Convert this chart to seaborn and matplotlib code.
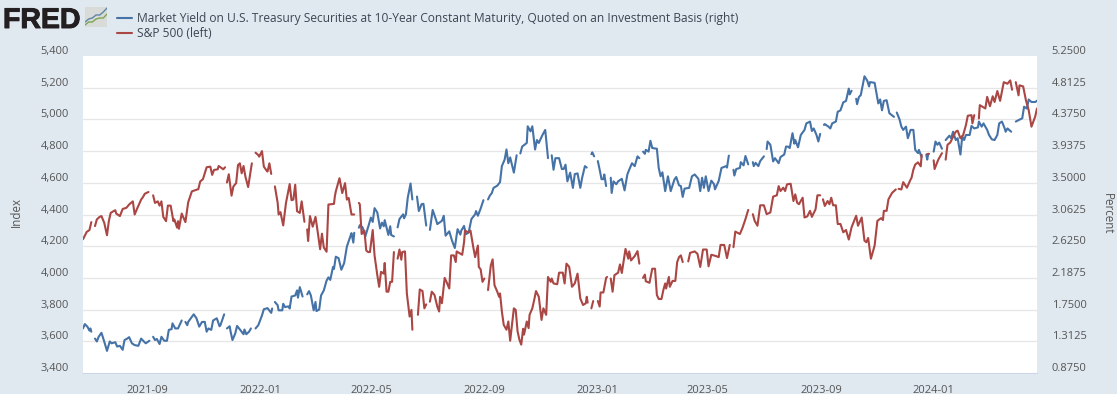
import numpy as np
import pandas as pd
import seaborn as sns
import matplotlib.pyplot as plt
import matplotlib.patheffects as pe
from matplotlib.lines import Line2D
from matplotlib.patches import Rectangle
from matplotlib.transforms import ScaledTranslation

nan = float('nan')

# days since the start date, nan in the values marks a missing observation
start_date = '2021-06-24'

sp_days = [0, 4, 7, 9, 11, 13, 15, 18, 20, 23, 26, 28, 30, 33, 35, 36, 40, 43, 47, 50,
           54, 56, 59, 63, 65, 67, 71, 73, 76, 78, 81, 83, 85, 87, 90, 92, 95, 98, 99, 102,
           103, 104, 107, 111, 114, 118, 123, 125, 127, 130, 134, 138, 140, 142, 146, 147, 149, 152, 154, 155,
           156, 158, 161, 163, 166, 168, 170, 172, 174, 176, 179, 183, 186, 187, 190, 191, 194, 196, 199, 200,
           202, 204, 207, 208, 211, 212, 214, 217, 220, 224, 226, 228, 230, 232, 235, 237, 240, 242, 243, 244,
           246, 249, 252, 254, 257, 259, 261, 264, 266, 272, 273, 274, 278, 281, 284, 286, 288, 291, 294, 296,
           299, 300, 302, 305, 307, 309, 311, 314, 316, 319, 321, 323, 326, 327, 329, 331, 333, 335, 337, 339,
           341, 343, 345, 346, 349, 351, 354, 356, 357, 360, 363, 365, 368, 370, 372, 374, 376, 378, 381, 384,
           386, 387, 389, 392, 394, 397, 399, 402, 404, 405, 411, 413, 414, 418, 420, 423, 425, 428, 429, 431,
           433, 435, 437, 439, 442, 444, 446, 449, 451, 452, 454, 456, 459, 461, 463, 467, 469, 471, 473, 475,
           477, 478, 481, 483, 484, 487, 489, 491, 494, 497, 499, 502, 504, 507, 508, 510, 514, 516, 520, 522,
           524, 527, 530, 533, 536, 539, 542, 545, 546, 547, 549, 551, 553, 554, 558, 560, 561, 564, 567, 568,
           571, 572, 574, 576, 580, 582, 584, 588, 591, 592, 594, 598, 601, 603, 605, 607, 609, 610, 614, 617,
           620, 622, 624, 627, 629, 631, 632, 635, 636, 639, 642, 644, 646, 648, 650, 652, 656, 658, 663, 666,
           669, 672, 676, 678, 681, 686, 689, 691, 695, 698, 701, 703, 705, 707, 712, 715, 718, 721, 724, 726,
           728, 731, 734, 738, 741, 745, 748, 752, 754, 756, 759, 761, 763, 767, 770, 772, 774, 776, 780, 782,
           785, 788, 790, 794, 796, 799, 801, 802, 804, 807, 809, 811, 813, 816, 818, 821, 824, 827, 830, 833,
           838, 840, 844, 847, 849, 851, 854, 858, 861, 865, 867, 868, 871, 873, 877, 881, 883, 884, 887, 889,
           893, 897, 898, 900, 902, 905, 908, 909, 911, 915, 917, 919, 922, 923, 927, 931, 933, 935, 937, 940,
           944, 946, 948, 951, 954, 957, 959, 963, 964, 966, 970, 971, 972, 978, 980, 983, 986, 988, 991, 994,
           998, 1002, 1005, 1007, 1010, 1011, 1014, 1015, 1019, 1022, 1025, 1028, 1032, 1034]
sp_values = [4244, 4290, 4302, 4352, nan, 4327, 4369, 4385, 4390, 4348, 4269, 4358, 4410, 4421, 4427, 4406, 4390, 4435, 4442, 4463,
             4483, 4400, 4442, 4494, 4510, 4531, 4542, nan, 4521, 4473, 4483, 4456, 4483, 4385, 4358, 4456, 4456, 4358, 4369, 4317,
             4358, 4310, 4406, 4352, 4477, 4546, 4556, 4560, 4608, 4623, 4698, 4702, 4650, 4681, 4685, 4706, 4698, 4685, 4698, nan,
             4602, 4654, 4519, 4577, 4598, 4712, 4723, 4660, 4706, 4640, 4573, 4723, nan, 4790, 4775, 4765, 4800, 4702, 4677, 4671,
             4723, 4656, nan, 4577, 4473, 4400, 4415, 4331, 4473, 4592, 4490, 4494, 4588, 4421, 4410, 4483, 4354, nan, 4306, 4233,
             4390, 4323, 4385, 4306, 4181, 4279, 4192, 4165, 4463, 4467, 4515, 4546, 4629, 4535, 4598, 4494, 4504, 4400, 4400, nan,
             4473, 4465, 4277, 4298, 4173, 4163, 4163, 4302, 4142, 4017, 3944, 4038, 4027, 4094, 3913, 3913, 3975, 3975, 4163, nan,
             4121, 4179, 4115, 4163, 4167, 3902, 3756, 3798, 3673, nan, 3767, 3927, 3917, 3808, 3833, nan, 3850, 3913, 3892, 3819,
             3788, 3881, 3840, 4000, 3975, 3933, 4142, 4142, 4100, 4167, 4146, 4225, 4298, 4287, 4298, 4194, 4131, 4204, 4069, 4054,
             3975, 3996, nan, 3923, 4079, 4117, 3954, 3913, 3881, 3902, 3788, 3704, 3673, 3725, 3604, 3808, 3798, 3663, 3610, 3579,
             3679, 3642, 3725, 3683, 3767, 3808, 3860, 3917, 3881, 3735, 3808, 3767, 4006, 3975, 3996, 3965, 3960, 4033, 4033, 3965,
             4090, 4069, 3944, 3965, 4027, 3871, 3829, 3840, 3881, 3844, nan, 3808, 3854, nan, 3854, 3819, 3908, 3908, 4000, 4006,
             nan, 3996, 3913, 4017, 4033, 4085, 4031, 4183, 4121, 4167, 4110, 4138, 4169, 4090, nan, 4000, 4021, 3979, 3969, 4058,
             4058, 3892, 3867, 3867, 3923, 3965, 3933, 4006, 3944, 3981, 3981, 4100, 4131, 4142, 4100, nan, 4104, 4158, 4167, 4152,
             4069, 4179, 4179, 4073, 4146, 4138, 4131, 4208, 4208, 4125, 4208, nan, 4194, 4292, 4277, 4319, 4371, 4429, nan, 4402,
             4360, 4329, 4458, 4458, 4402, 4413, 4513, 4521, 4579, 4548, 4569, 4548, 4590, 4594, 4485, 4527, 4475, 4465, 4506, 4381,
             4388, 4423, 4385, 4433, 4521, 4521, nan, 4496, 4454, 4485, 4465, 4506, 4458, 4458, 4340, 4340, 4288, 4302, 4242, 4319,
             4392, 4329, 4381, 4235, 4225, 4252, 4121, 4204, 4360, 4377, 4365, 4423, 4423, 4496, 4537, 4558, nan, 4562, 4558, 4604,
             4569, 4621, 4631, 4683, 4715, 4729, 4704, 4777, nan, 4781, 4783, nan, 4742, 4687, 4746, 4787, nan, 4746, 4840, 4854,
             4902, 4923, 4929, 4881, 4902, 4965, 5023, 5027, 4975, 5027, nan, 5006, 5090, 5069, 5142, 5083, 5146, 5110, 5179, 5117,
             5235, 5225, 5246, 5187, nan, 5235, 5152, 5215, 5208, 5121, 5058, 4954, 5017, 5069]

yield_days = [0, 2, 5, 7, 8, 9, 11, 13, 15, 17, 20, 23, 26, 29, 31, 35, 37, 40, 43, 45,
              48, 50, 53, 56, 60, 63, 66, 68, 72, 74, 76, 78, 80, 83, 85, 88, 91, 93, 96, 97,
              100, 103, 107, 110, 111, 113, 114, 120, 123, 126, 129, 132, 134, 136, 139, 141, 145, 148, 149, 153,
              155, 156, 159, 160, 162, 165, 167, 171, 174, 175, 177, 180, 182, 185, 187, 190, 194, 196, 200, 204,
              205, 207, 208, 211, 212, 216, 217, 219, 223, 224, 226, 230, 232, 233, 235, 238, 241, 243, 245, 247,
              250, 252, 253, 256, 258, 261, 264, 266, 268, 271, 272, 274, 277, 280, 283, 286, 290, 291, 293, 294,
              296, 299, 300, 303, 306, 310, 312, 314, 316, 319, 322, 324, 326, 327, 331, 333, 334, 337, 339, 341,
              343, 347, 348, 350, 352, 355, 357, 360, 362, 364, 367, 369, 372, 374, 376, 379, 383, 384, 389, 391,
              393, 397, 400, 403, 405, 406, 409, 410, 413, 415, 418, 421, 425, 426, 428, 431, 434, 436, 439, 441,
              443, 445, 449, 452, 454, 457, 459, 461, 463, 467, 470, 472, 474, 476, 481, 482, 485, 487, 490, 492,
              494, 498, 501, 504, 506, 508, 510, 512, 516, 519, 521, 523, 525, 528, 531, 533, 536, 539, 541, 544,
              546, 549, 551, 552, 554, 556, 558, 560, 562, 564, 565, 567, 570, 572, 573, 575, 578, 580, 584, 587,
              590, 592, 595, 598, 601, 603, 605, 607, 609, 610, 613, 615, 617, 622, 624, 626, 628, 631, 634, 637,
              641, 643, 646, 648, 650, 652, 657, 660, 663, 667, 669, 671, 673, 675, 678, 681, 684, 685, 689, 692,
              697, 698, 700, 702, 705, 706, 708, 712, 713, 716, 718, 721, 723, 726, 727, 729, 732, 734, 738, 740,
              741, 742, 745, 748, 750, 754, 756, 760, 762, 764, 766, 769, 771, 772, 775, 778, 782, 784, 788, 790,
              792, 795, 797, 799, 801, 803, 804, 808, 810, 812, 816, 818, 821, 824, 827, 830, 831, 833, 836, 838,
              839, 841, 843, 847, 850, 852, 853, 858, 862, 864, 866, 868, 871, 874, 879, 881, 882, 885, 887, 889,
              892, 894, 897, 900, 902, 905, 906, 908, 909, 912, 914, 915, 916, 919, 922, 924, 926, 928, 931, 934,
              935, 939, 941, 943, 946, 948, 951, 953, 955, 957, 961, 963, 966, 970, 971, 974, 976, 980, 982, 985,
              988, 991, 993, 996, 999, 1000, 1002, 1006, 1009, 1011, 1014, 1018, 1020, 1023, 1025, 1028, 1032, 1035]
yield_values = [1.49, 1.55, 1.51, 1.46, 1.49, 1.445, nan, 1.35, 1.31, 1.375, 1.43, 1.31, 1.18, 1.31, 1.285, 1.30, 1.24, 1.25, 1.195, 1.33,
                1.35, 1.37, 1.285, 1.26, 1.25, 1.35, 1.31, 1.285, 1.32, nan, 1.375, 1.33, 1.345, 1.275, 1.375, 1.32, 1.32, 1.47, 1.48, 1.56,
                1.49, 1.49, 1.60, nan, 1.58, 1.535, 1.58, 1.685, 1.63, 1.515, 1.58, 1.58, 1.445, 1.49, 1.47, 1.60, 1.63, 1.52, 1.535, 1.685,
                nan, 1.49, 1.52, 1.445, 1.33, 1.42, 1.525, 1.46, 1.41, 1.475, 1.41, 1.445, 1.49, nan, 1.49, 1.535, 1.67, 1.755, 1.77, 1.705,
                1.765, nan, 1.855, 1.81, 1.74, 1.74, 1.83, 1.785, 1.795, 1.765, 1.93, 1.945, 2.015, 1.915, 2.06, 1.93, nan, 1.96, 2.005, 1.945,
                1.74, 1.855, 1.73, 1.75, 1.945, 2.015, 2.15, 2.195, 2.16, 2.34, 2.31, 2.48, 2.46, 2.30, 2.39, 2.62, 2.77, 2.805, 2.675, 2.81,
                nan, 2.88, 2.915, 2.885, 2.76, 2.93, 3.02, 2.96, 3.15, 3.09, 2.87, 2.95, 2.90, 2.985, 2.78, 2.90, 2.78, 2.76, nan, 2.885,
                3.00, 3.065, 3.01, 3.065, 3.295, 3.49, 3.27, nan, 3.31, 3.11, 3.205, 3.21, 2.91, nan, 2.85, 3.125, 2.975, 2.93, 2.975, 3.045,
                2.77, 2.83, 2.70, 2.60, 2.78, 2.86, 2.785, 2.84, 2.905, 2.79, 2.815, 3.00, 3.065, 3.11, 3.045, 3.145, 3.26, nan, 3.27, 3.325,
                3.355, 3.43, 3.46, 3.51, 3.73, 3.82, 3.96, 3.77, 3.85, 3.64, 3.88, nan, 3.905, 4.00, 4.05, 4.28, 4.21, 4.28, 3.96, 4.09,
                4.05, 4.16, 4.23, 3.84, nan, 3.88, 3.68, 3.84, 3.84, 3.69, 3.69, 3.75, 3.52, 3.64, 3.43, 3.62, 3.63, 3.43, 3.57, 3.73,
                3.71, nan, 3.895, 3.92, 3.865, nan, 3.80, 3.68, 3.55, 3.55, 3.615, 3.455, nan, 3.57, 3.36, 3.52, 3.48, 3.52, 3.555, 3.395,
                3.615, 3.68, 3.77, 3.73, 3.865, 3.84, nan, 3.93, 3.90, 3.955, 3.93, 4.08, 3.98, 3.97, 3.705, 3.59, 3.645, 3.385, 3.59, 3.385,
                3.545, 3.58, 3.465, 3.455, 3.305, 3.42, 3.43, 3.59, 3.615, 3.555, 3.385, 3.57, 3.43, 3.59, 3.385, 3.53, 3.48, 3.41, 3.525, 3.705,
                3.73, 3.71, 3.875, nan, 3.68, 3.60, 3.69, 3.705, 3.785, 3.74, 3.87, 3.755, nan, 3.785, 3.73, 3.775, 3.73, 3.80, 3.865, nan,
                3.965, 4.07, 4.025, 3.795, 3.84, 3.77, 3.855, 3.89, 4.00, 4.00, 3.98, 4.185, 4.04, 4.09, 3.99, 4.16, 4.23, 4.32, 4.345, 4.215,
                4.25, 4.16, 4.07, 4.175, nan, 4.30, 4.31, 4.275, 4.25, 4.32, 4.345, 4.48, 4.50, 4.61, 4.63, 4.80, 4.72, 4.77, nan, 4.66,
                4.585, 4.685, 4.71, 4.97, 4.91, 4.83, 4.89, 4.88, 4.595, 4.65, 4.50, 4.63, 4.64, 4.46, 4.41, nan, 4.47, 4.375, 4.275, 4.23,
                4.275, 4.115, 4.23, 4.23, 3.955, 3.91, 3.955, 3.885, 3.855, nan, 3.89, 3.82, 3.89, nan, 3.93, 4.07, 4.025, 4.055, 3.97, nan,
                4.09, 4.15, 4.115, 4.205, 4.09, 4.115, 3.89, 4.14, 4.09, 4.16, 4.16, 4.285, 4.25, 4.265, 4.345, 4.275, 4.32, 4.23, 4.16, 4.10,
                4.09, 4.16, 4.32, 4.345, 4.25, 4.205, 4.25, 4.205, nan, 4.345, 4.365, 4.39, 4.55, 4.525, 4.65, 4.615, 4.615, 4.64]

left_ticks = [3400, 3600, 3800, 4000, 4200, 4400, 4600, 4800, 5000, 5200, 5400]
right_ticks = [0.875, 1.3125, 1.75, 2.1875, 2.625, 3.0625, 3.5, 3.9375, 4.375, 4.8125, 5.25]
x_ticks = ['2021-09-01', '2022-01-01', '2022-05-01', '2022-09-01', '2023-01-01',
           '2023-05-01', '2023-09-01', '2024-01-01']
x_labels = ['2021-09', '2022-01', '2022-05', '2022-09', '2023-01', '2023-05', '2023-09', '2024-01']

yield_name = 'Market Yield on U.S. Treasury Securities at 10-Year Constant Maturity, Quoted on an Investment Basis (right)'
sp_name = 'S&P 500 (left)'

BG = '#e1e9f0'
BLUE = '#4572a7'
RED = '#aa4643'
TXT = '#555555'
W, H = 1117, 394


def make_frame(days, values):
    df = pd.DataFrame({'day': days, 'value': values})
    df['date'] = pd.Timestamp(start_date) + pd.to_timedelta(df['day'], unit='D')
    # each run between missing values is drawn as its own piece
    df['piece'] = df['value'].isna().cumsum()
    return df


def draw_series(df, ax, c):
    sns.lineplot(data=df, x='date', y='value', units='piece', estimator=None,
                 color=c, lw=1.5, legend=False, ax=ax)
    ax.set_xlabel('')
    ax.set_ylabel('')


def shift_labels(labels, ax, dx, dy):
    # the labels sit off their ticks, as in the original
    off = ScaledTranslation(dx / 100, dy / 100, ax.figure.dpi_scale_trans)
    for lbl in labels:
        lbl.set_transform(lbl.get_transform() + off)


sns.set_theme(style='white')
plt.rcParams['font.family'] = ['Open Sans', 'DejaVu Sans']

fig = plt.figure(figsize=(W / 100, H / 100), dpi=100, facecolor=BG)
ax = fig.add_axes([83 / W, (H - 373) / H, 954 / W, 317 / H], facecolor='white')
ax2 = ax.twinx()

draw_series(make_frame(yield_days, yield_values), ax2, BLUE)
draw_series(make_frame(sp_days, sp_values), ax, RED)
ax.set_zorder(ax2.get_zorder() + 1)
ax.patch.set_visible(False)
ax2.patch.set_visible(True)
ax2.patch.set_facecolor('white')

x0 = pd.Timestamp(start_date)
ax.set_xlim(x0, x0 + pd.Timedelta(days=1034))
ax.set_ylim(3400, 5400)
ax2.set_ylim(0.875, 5.25)

ax.set_xticks(pd.to_datetime(x_ticks))
ax.set_xticklabels(x_labels)
ax.set_yticks(left_ticks)
ax.set_yticklabels([f'{v:,}' for v in left_ticks])
ax2.set_yticks(right_ticks)
ax2.set_yticklabels([f'{v:.4f}' for v in right_ticks])

ax.tick_params(axis='x', length=7.2, width=0.8, color='#ccd6eb', pad=1.5, labelsize=8, labelcolor=TXT)
ax.tick_params(axis='y', length=0, pad=10, labelsize=8, labelcolor=TXT)
ax2.tick_params(axis='y', length=0, pad=10.5, labelsize=8, labelcolor=TXT)
shift_labels(ax.get_yticklabels(), ax, 0, 6)
shift_labels(ax2.get_yticklabels(), ax2, 0, 6)
shift_labels(ax.get_xticklabels(), ax, 1, 0)

for a in (ax, ax2):
    for s in a.spines.values():
        s.set_visible(False)
ax.spines['bottom'].set_visible(True)
ax.spines['bottom'].set_color('#ccd6eb')
ax.spines['bottom'].set_linewidth(0.8)

# grid goes behind both lines, so it belongs to the lower axes
ax2.grid(False)
ax.grid(False)
for v in left_ticks[1:-1]:
    ax2.axhline(0.875 + (v - 3400) / 2000 * 4.375, color='#e6e6e6', lw=0.9, zorder=0)

fig.text(16 / W, 1 - 212 / H, 'Index', rotation=90, ha='center', va='center', fontsize=8.3, color=TXT)
fig.text(1107.5 / W, 1 - 214 / H, 'Percent', rotation=270, ha='center', va='center', fontsize=8.3, color=TXT)

# legend
for y, c, name in [(18, BLUE, yield_name), (33, RED, sp_name)]:
    fig.add_artist(Line2D([117 / W, 132 / W], [1 - y / H, 1 - y / H], color=c, lw=1.5))
    fig.text(137 / W, 1 - (y + 0.5) / H, name, ha='left', va='center', fontsize=8.66, color='#3c4654')

# logo
logo = fig.text(3 / W, 1 - 28 / H, 'FRED', family='Liberation Sans', fontweight='bold', fontsize=20.5,
                color='#231f20', ha='left', va='baseline')
logo.set_path_effects([pe.withStroke(linewidth=0.7, foreground='#231f20')])
fig.add_artist(Rectangle((85 / W, 1 - 27 / H), 22 / W, 20 / H, transform=fig.transFigure,
                         facecolor='#d9dbd9', edgecolor='none', zorder=0))
icon = fig.add_axes([85 / W, 1 - 27 / H, 22 / W, 20 / H])
icon.plot([0, 1, 2, 3, 4, 5, 6], [2.5, 4, 4.5, 6, 6, 7.5, 9.5], color='#5f86a8', lw=1)
icon.plot([0, 1, 2, 3, 4, 5, 6], [1, 2.5, 2.5, 4, 4.5, 4.5, 6.5], color='#7da650', lw=1)
icon.set_xlim(0, 6)
icon.set_ylim(0, 10)
icon.axis('off')

fig.savefig('out.png', dpi=100, facecolor=BG)
